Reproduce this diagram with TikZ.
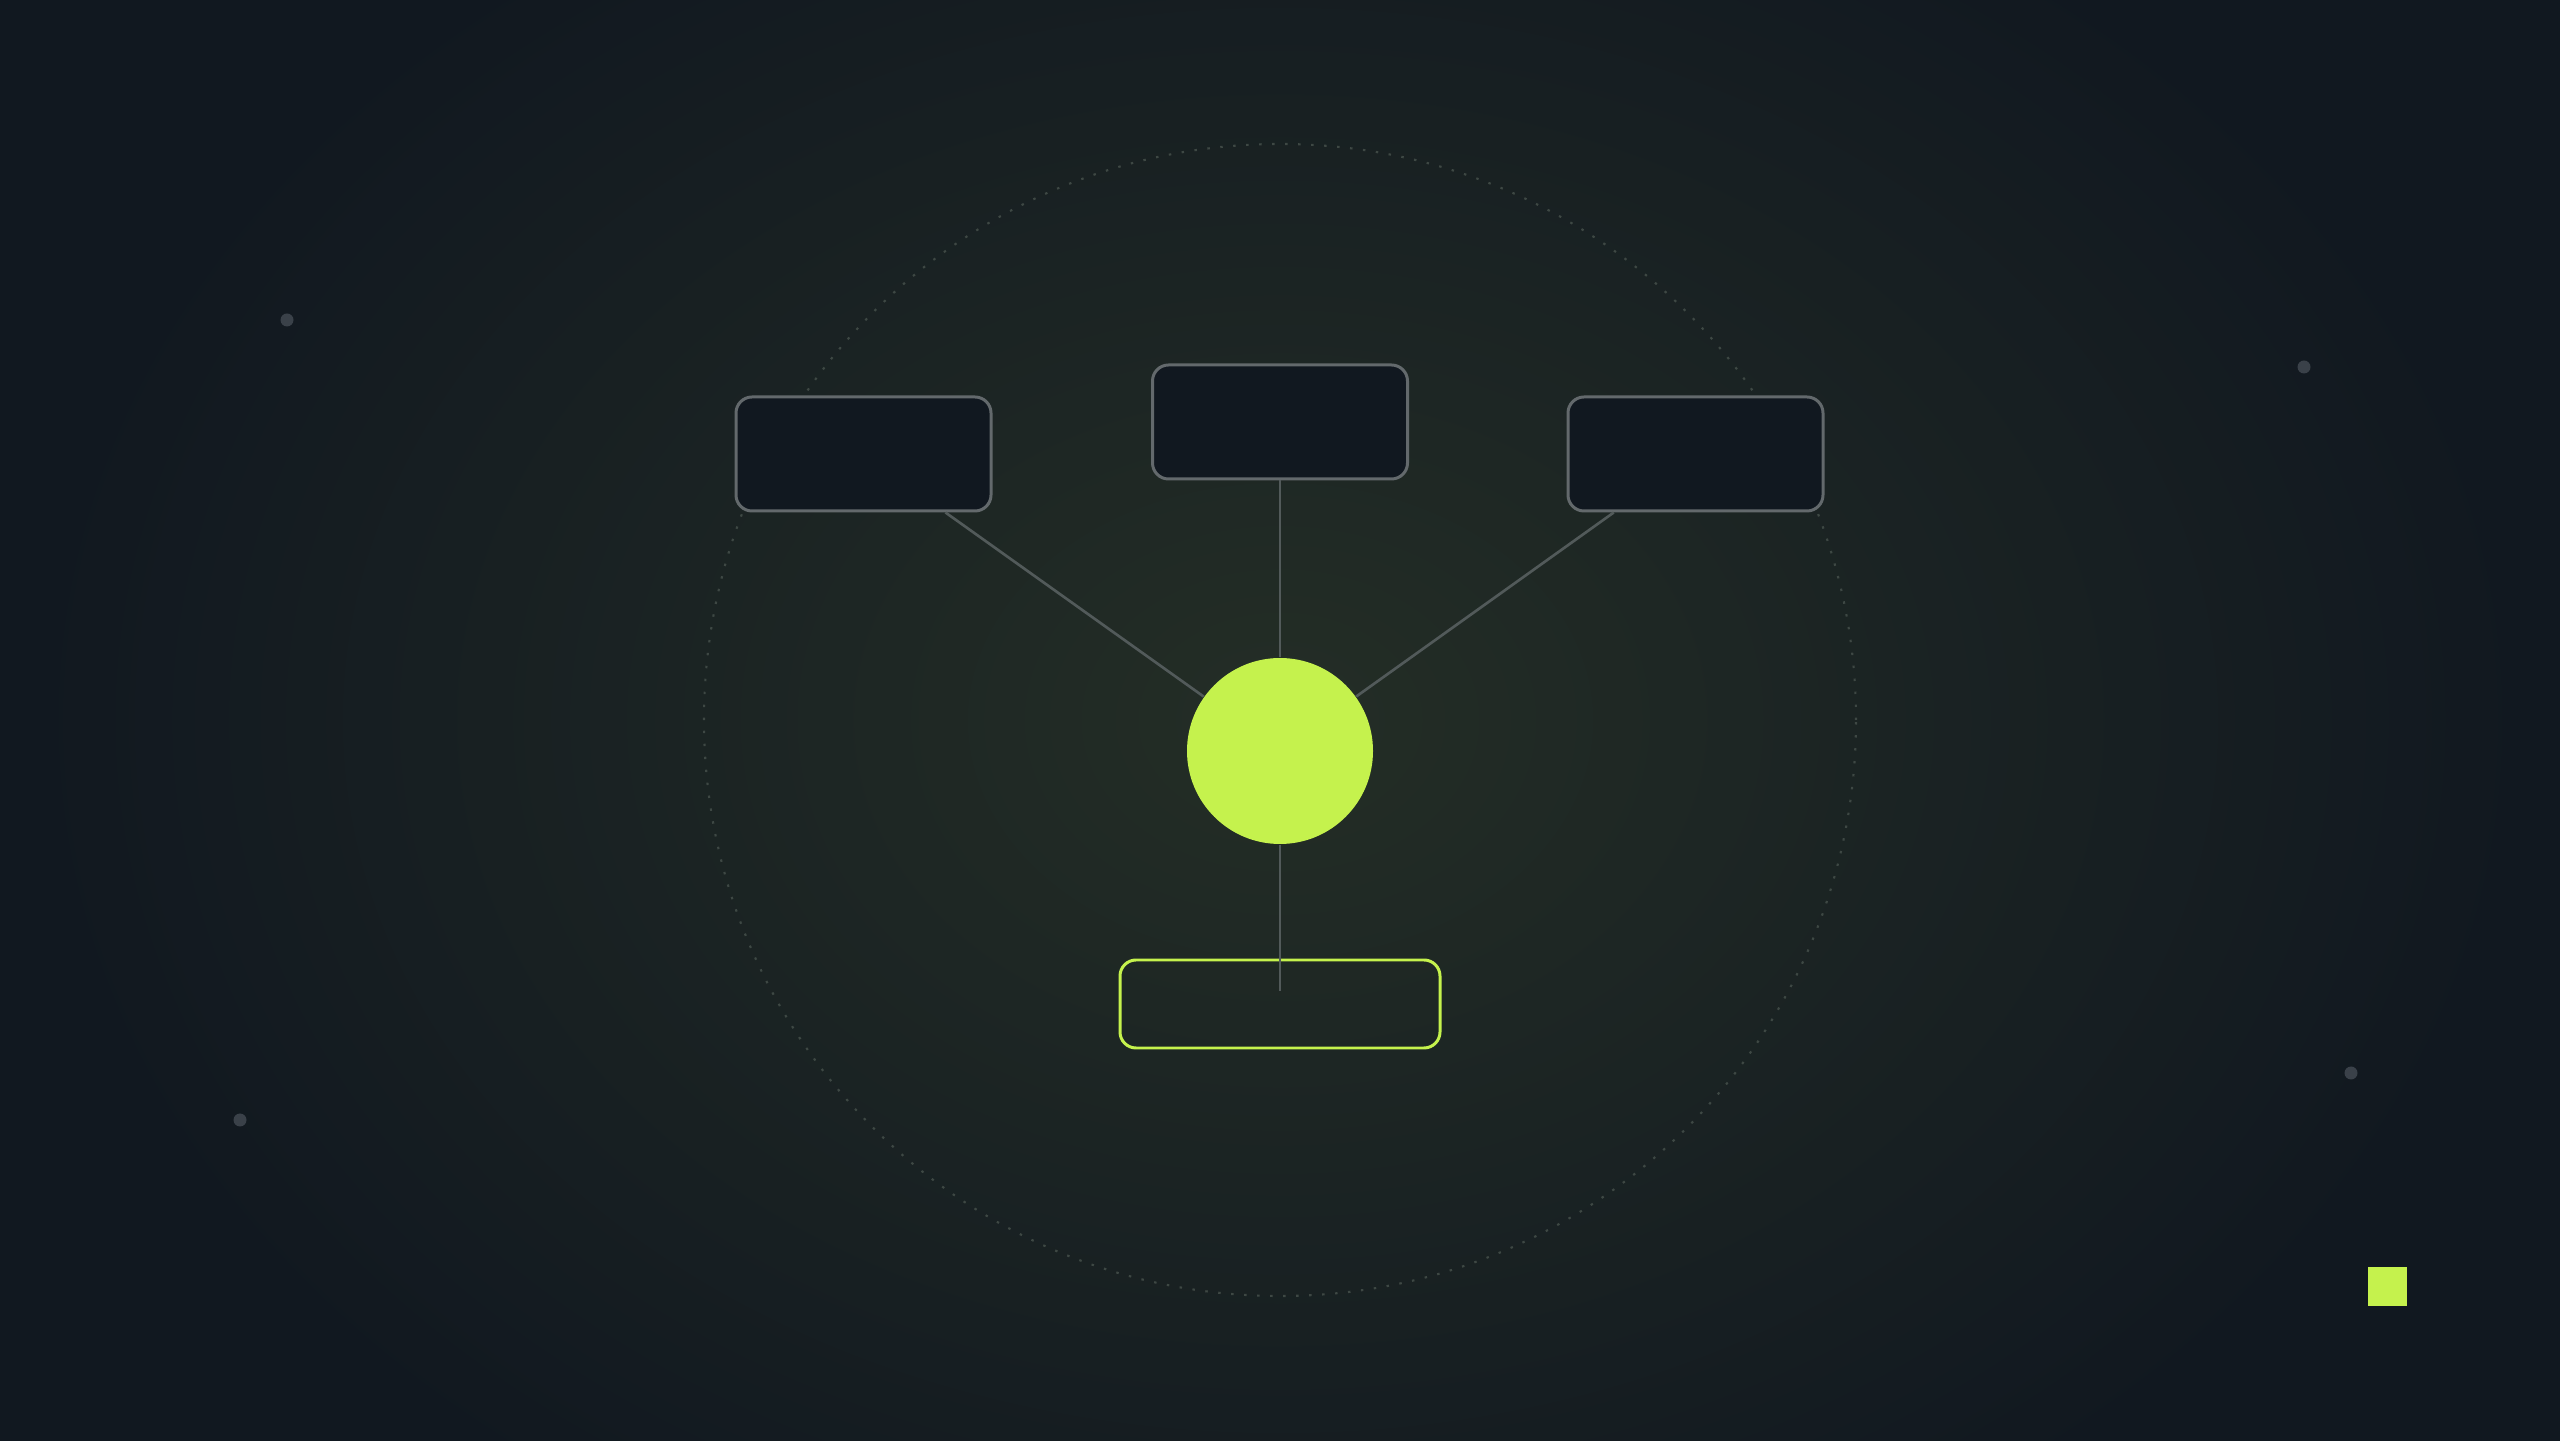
\documentclass[tikz,border=0pt]{standalone}
\usepackage{xcolor}
\usepackage{tikz}
\usetikzlibrary{shapes, arrows, positioning}

\definecolor{bgdark}{HTML}{111820}
\definecolor{glow}{HTML}{242E26}
\definecolor{lime}{HTML}{C5F24D}
\definecolor{boxgray}{HTML}{63696C}
\definecolor{linkgray}{HTML}{525A5A}
\definecolor{speck}{HTML}{3A4149}
\definecolor{ringgray}{HTML}{3E4844}

\begin{document}
\begin{tikzpicture}
        \useasboundingbox (0,0) rectangle (25.6,14.4);
        \fill[bgdark] (-0.2,-0.2) rectangle (25.8,14.6);
        \begin{scope}
          \clip (-0.2,-0.2) rectangle (25.8,14.6);
          \shade[inner color=glow, outer color=bgdark] (12.8,7.2) ellipse (12.5 and 9.5);
        \end{scope}
        \draw[ringgray, line width=0.6pt, dash pattern=on 0.7pt off 3pt] (12.8,7.2) circle (5.76);
        \begin{scope}[every path/.style={fill=speck}]
          \fill (2.87,11.2) circle (0.065);
          \fill (2.40,3.20) circle (0.065);
          \fill (23.04,10.73) circle (0.065);
          \fill (23.51,3.67) circle (0.065);
        \end{scope}
        \fill[lime] (23.68,1.34) rectangle (24.07,1.73);
        \begin{scope}[every node/.style={rectangle,rounded corners=0.16cm,draw=boxgray,fill=bgdark,line width=0.85pt,minimum width=2.55cm,minimum height=1.14cm,inner sep=0pt}]
          \node (lbox) at (8.635,9.86) {};
          \node (mbox) at (12.8,10.18) {};
          \node (rbox) at (16.955,9.86) {};
        \end{scope}
        \node[circle,fill=lime,minimum size=1.86cm,inner sep=0pt] (hub) at (12.8,6.89) {};
        \node[rectangle,rounded corners=0.16cm,draw=lime,line width=0.85pt,minimum width=3.2cm,minimum height=0.88cm,inner sep=0pt] (base) at (12.8,4.36) {};
        \coordinate (stub) at (12.8,4.49);
        \begin{scope}[every edge/.style={draw=linkgray,line width=0.75pt}]
          \path (hub) edge (lbox);
          \path (hub) edge (mbox);
          \path (hub) edge (rbox);
          \path (hub) edge (stub);
        \end{scope}
\end{tikzpicture}
\end{document}
